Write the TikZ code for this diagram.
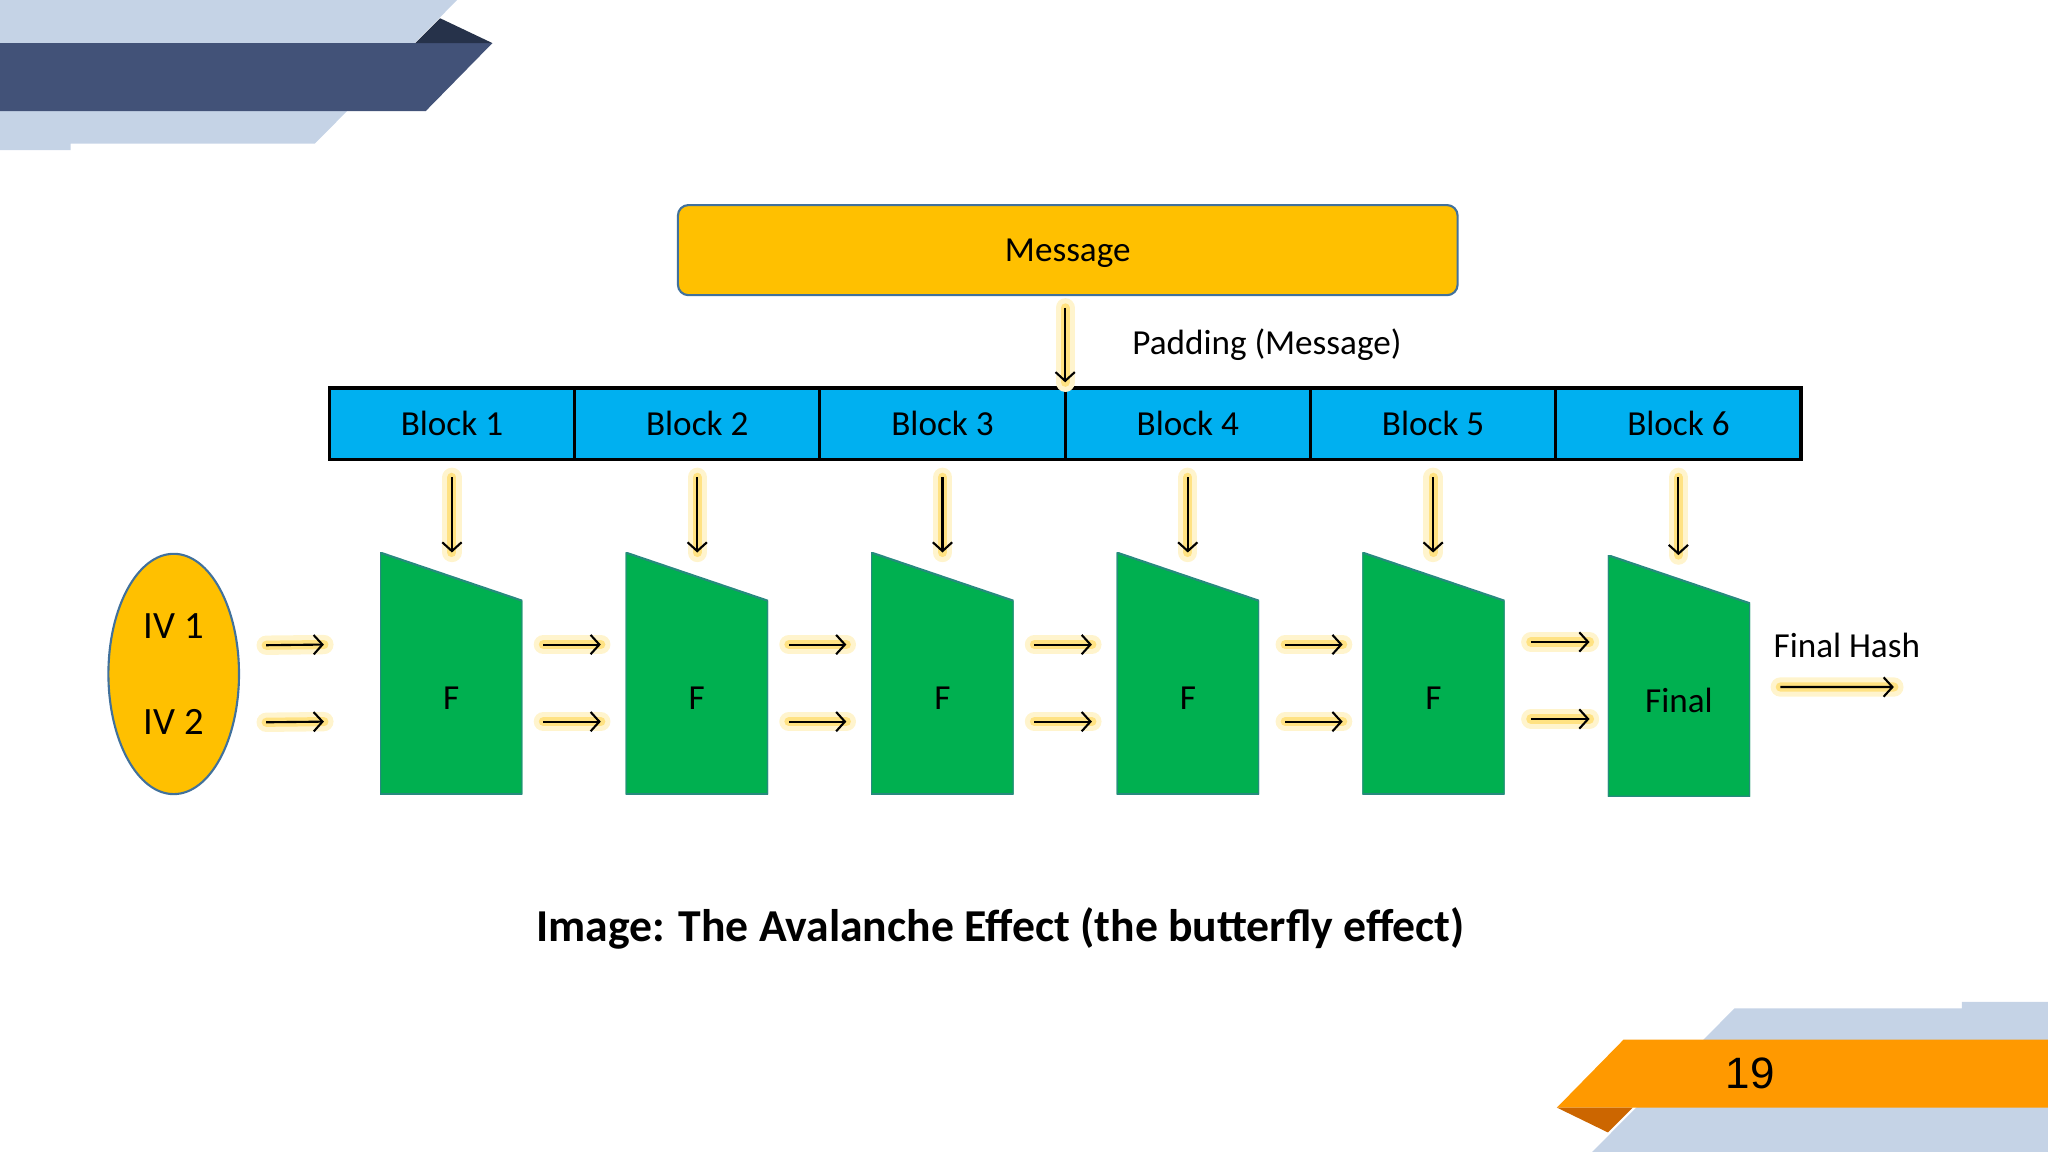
\documentclass[tikz,border=0pt]{standalone}
\usepackage{fontspec}
\setmainfont{Carlito}
\newfontfamily\pagefont{Liberation Sans}
\usetikzlibrary{positioning,shapes.geometric,calc,arrows.meta}

\definecolor{paleblue}{RGB}{197,211,230}
\definecolor{navy}{RGB}{66,82,120}
\definecolor{navydark}{RGB}{38,50,74}
\definecolor{tangerine}{RGB}{255,153,0}
\definecolor{rust}{RGB}{204,102,0}
\definecolor{amber}{RGB}{255,192,0}
\definecolor{skyblue}{RGB}{0,176,240}
\definecolor{leaf}{RGB}{0,176,80}
\definecolor{edgeblue}{RGB}{65,113,156}
\definecolor{glowout}{RGB}{255,244,205}
\definecolor{glowin}{RGB}{255,226,130}

\tikzset{
  txt/.style={font=\fontsize{10}{12}\selectfont},
  msgbox/.style={txt, draw=edgeblue, line width=0.6pt, fill=amber, rounded corners=3pt,
    minimum width=7.797cm, minimum height=0.901cm, inner sep=0pt, text depth=0pt},
  block/.style={txt, draw=black, line width=0.9pt, fill=skyblue,
    minimum width=2.453cm, minimum height=0.718cm, inner sep=0pt, outer sep=0pt},
  stage/.style={minimum width=1.424cm, minimum height=2.416cm, inner sep=0pt, outer sep=0pt,
    path picture={
      \draw[edgeblue!60!leaf, fill=leaf, line width=0.6pt]
        (path picture bounding box.south west) -- (path picture bounding box.north west)
        -- ($(path picture bounding box.north east)+(0,-0.483cm)$)
        -- (path picture bounding box.south east) -- cycle;}},
  lbl/.style={txt, yshift=-0.25cm},
  ivnode/.style={ellipse, draw=edgeblue, line width=0.6pt, fill=amber, inner sep=0pt,
    minimum width=1.306cm, minimum height=2.403cm, align=center,
    font=\fontsize{11}{27.4}\selectfont},
  glow/.style={preaction={draw=glowout, line width=5.5pt, line cap=round, -},
    preaction={draw=glowin, line width=2.6pt, line cap=round, -}},
  flow/.style={glow, ->, line width=0.6pt}
}

\begin{document}
\begin{tikzpicture}[x=0.01306cm,y=-0.01306cm,>={Straight Barb[length=2.5pt,width=5.5pt]}]
  \useasboundingbox (0,0) rectangle (1568,882);

  % Slide decoration, top left
  \fill[paleblue] (0,0) -- (350,0) -- (241,110) -- (54,110) -- (54,115) -- (0,115) -- cycle;
  \fill[navy] (0,33) -- (377,33) -- (326,85) -- (0,85) -- cycle;
  \fill[navydark] (318,33) -- (337,14) -- (377,33) -- cycle;

  % Slide decoration, bottom right
  \fill[paleblue] (1328,772) -- (1502,772) -- (1502,767) -- (1568,767) -- (1568,882) -- (1219,882) -- cycle;
  \fill[tangerine] (1243,796) -- (1568,796) -- (1568,848) -- (1192,848) -- cycle;
  \fill[rust] (1192,848) -- (1250,848) -- (1231,867) -- cycle;
  \node[font=\pagefont\fontsize{12.5}{14}\selectfont] (pagenum) at (1340,822) {19};

  % Message and padding
  \node[msgbox] (msg) at (817.5,191.5) {Message};
  \node[block] (b1) at (346,324.5) {Block 1};
  \node[block, right=0pt of b1] (b2) {Block 2};
  \node[block, right=0pt of b2] (b3) {Block 3};
  \node[block, right=0pt of b3] (b4) {Block 4};
  \node[block, right=0pt of b4] (b5) {Block 5};
  \node[block, right=0pt of b5] (b6) {Block 6};
  \draw[flow, shorten <=3.3pt, shorten >=1.6pt] (msg.south -| b4.north west) -- (b4.north west);
  \node[txt] (padlbl) at (970,264) {Padding (Message)};

  % Compression stages
  \node[ivnode] (iv) at (133,516) {IV 1\\IV 2};
  \node[stage, label={[lbl]center:F}] (f1) at (345.5,515.5) {};
  \node[stage, label={[lbl]center:F}] (f2) at (533.5,515.5) {};
  \node[stage, label={[lbl]center:F}] (f3) at (721.5,515.5) {};
  \node[stage, label={[lbl]center:F}] (f4) at (909.5,515.5) {};
  \node[stage, label={[lbl]center:F}] (f5) at (1097.5,515.5) {};
  \node[stage, label={[lbl]center:Final}] (f6) at (1285.5,517.5) {};

  % Blocks into stages
  \draw[flow, shorten <=5pt] (b1.south) -- (b1.south |- f1.north);
  \draw[flow, shorten <=5pt] (b2.south) -- (b2.south |- f2.north);
  \draw[flow, shorten <=5pt] (b3.south) -- (b3.south |- f3.north);
  \draw[flow, shorten <=5pt] (b4.south) -- (b4.south |- f4.north);
  \draw[flow, shorten <=5pt] (b5.south) -- (b5.south |- f5.north);
  \draw[flow, shorten <=5pt] (b6.south) -- (b6.south |- f6.north);

  % Chaining values
  \draw[flow] ($(iv.east)+(20,-22)$) -- ($(f1.west)+(-43,-22)$);
  \draw[flow] ($(iv.east)+(20,37)$) -- ($(f1.west)+(-43,37)$);
  \draw[flow] ($(f1.east)+(16,-22)$) -- ($(f2.west)+(-19,-22)$);
  \draw[flow] ($(f1.east)+(16,37)$) -- ($(f2.west)+(-19,37)$);
  \draw[flow] ($(f2.east)+(16,-22)$) -- ($(f3.west)+(-19,-22)$);
  \draw[flow] ($(f2.east)+(16,37)$) -- ($(f3.west)+(-19,37)$);
  \draw[flow] ($(f3.east)+(16,-22)$) -- ($(f4.west)+(-19,-22)$);
  \draw[flow] ($(f3.east)+(16,37)$) -- ($(f4.west)+(-19,37)$);
  \draw[flow] ($(f4.east)+(20,-22)$) -- ($(f5.west)+(-15,-22)$);
  \draw[flow] ($(f4.east)+(20,37)$) -- ($(f5.west)+(-15,37)$);
  \draw[flow] ($(f5.east)+(20,-24)$) -- ($(f6.west)+(-14,-26)$);
  \draw[flow] ($(f5.east)+(20,35)$) -- ($(f6.west)+(-14,33)$);

  % Output
  \coordinate (hashout) at (1450,526);
  \draw[flow] ($(f6.east)+(23,8.5)$) -- (hashout);
  \node[txt] (hashlbl) at (1414,494) {Final Hash};

  \node[font=\bfseries\fontsize{13}{15}\selectfont] (caption) at (766,711)
    {Image: The Avalanche Effect (the butterfly effect)};
\end{tikzpicture}
\end{document}
